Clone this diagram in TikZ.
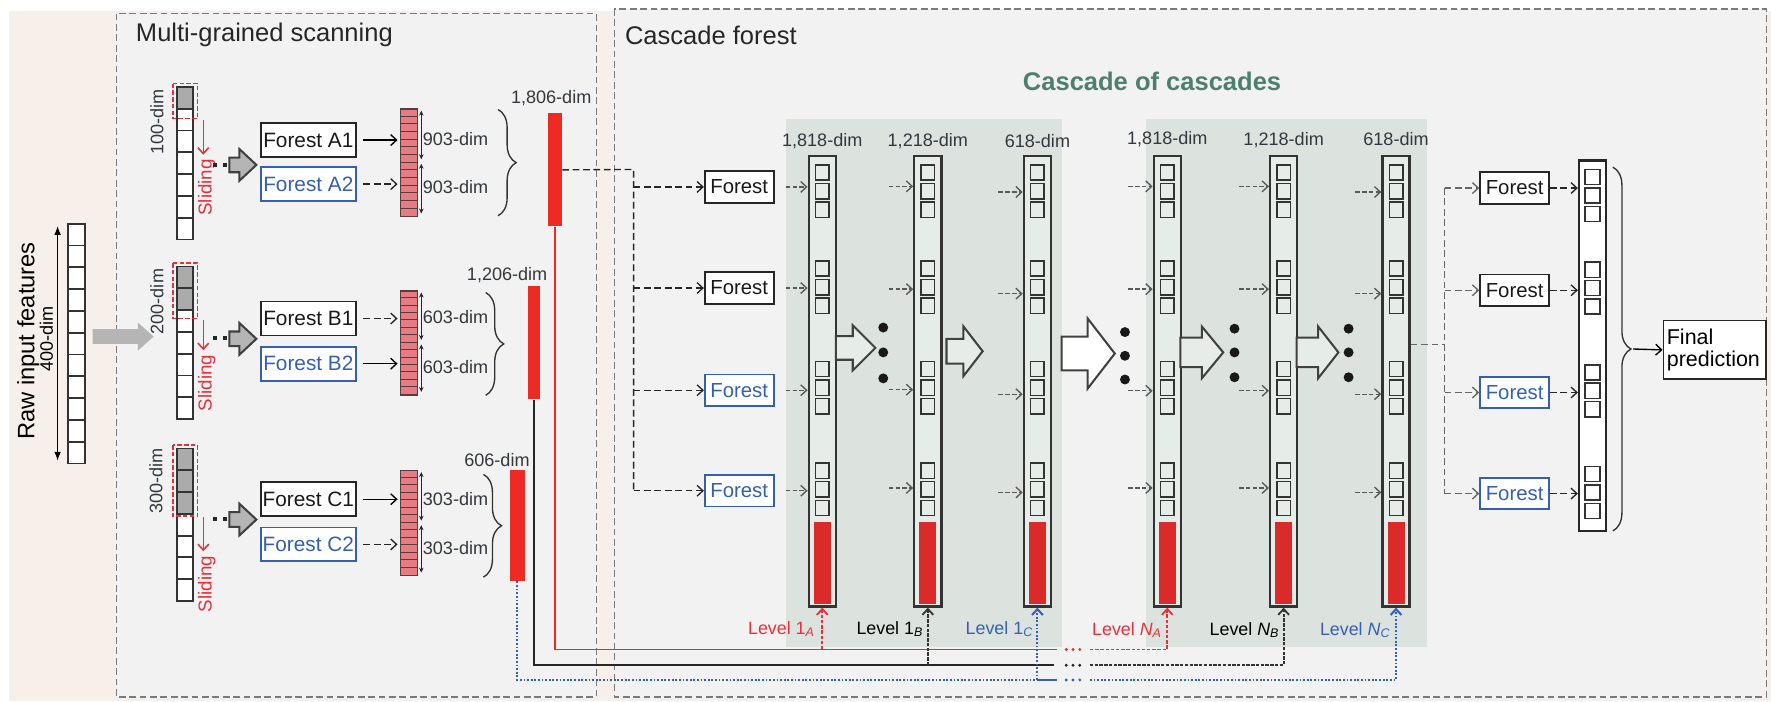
\documentclass[tikz,border=0pt]{standalone}
\usepackage{fontspec}
\setmainfont{Liberation Sans}
\usetikzlibrary{arrows.meta,decorations.pathreplacing,calc}

\definecolor{bgbeige}{HTML}{F7F0EA}
\definecolor{panelgray}{HTML}{F2F2F2}
\definecolor{panelline}{HTML}{7A7A7A}
\definecolor{levelshade}{HTML}{DCE3DE}
\definecolor{colfill}{HTML}{E6ECE8}
\definecolor{pinkcell}{HTML}{E57B83}
\definecolor{pinkline}{HTML}{5A3A3A}
\definecolor{barred}{HTML}{EE2A24}
\definecolor{segred}{HTML}{DA2A2A}
\definecolor{fblue}{HTML}{3560B0}
\definecolor{lvlred}{HTML}{E8303A}
\definecolor{cascgreen}{HTML}{4D7F6E}
\definecolor{dimtext}{HTML}{333840}
\definecolor{arrowgray}{HTML}{B5B5B5}
\definecolor{cellgray}{HTML}{ABABAB}
\definecolor{lineblk}{HTML}{262626}

\newcommand{\setfs}[1]{\fontsize{#1pt}{#1pt}\selectfont}

\tikzset{
  panel/.style={draw=panelline, fill=panelgray, line width=0.6pt, dash pattern=on 3pt off 1.6pt},
  paneltitle/.style={font=\setfs{11.3}, text=black!85, anchor=west, inner sep=0pt},
  fbox/.style={draw=black!85, fill=white, line width=0.8pt, inner sep=0pt, text=black!90},
  fboxblue/.style={fbox, draw=fblue, text=fblue},
  scanforest/.style={minimum width=42pt, minimum height=15pt, font=\setfs{9.2}},
  casforest/.style={minimum width=30.5pt, minimum height=14pt, font=\setfs{9}},
  dimlabel/.style={font=\setfs{8}, text=dimtext, inner sep=0pt},
  lvllabel/.style={font=\setfs{7.9}, inner sep=0pt},
  cascol/.style={draw=black!80, fill=colfill, line width=1pt, minimum width=12pt,
    minimum height=199.5pt, inner sep=0pt, anchor=north},
  sqcell/.style={draw=black!80, line width=0.8pt},
  smallsq/.style={draw=black!80, line width=0.65pt},
  pinkcol/.style={draw=pinkline, fill=pinkcell, line width=0.7pt, minimum width=7.5pt,
    inner sep=0pt, anchor=north west},
  redbar/.style={fill=barred, inner sep=0pt, anchor=north west},
  conn/.style={draw=black!85, line width=0.6pt, dash pattern=on 3pt off 1.6pt},
  inarrow/.style={draw=black!65, line width=0.6pt, dash pattern=on 2pt off 1pt, ->},
  dimarrow/.style={{Stealth[length=2.2pt,width=2pt]}-{Stealth[length=2.2pt,width=2pt]},
    line width=0.5pt, black!85},
  bracestyle/.style={decorate, decoration={brace, amplitude=#1}, line width=0.6pt, black!80},
  slide/.style={lvlred, line width=0.7pt, ->},
  slidebox/.style={lvlred, line width=0.7pt, dash pattern=on 2pt off 1pt},
  slidetext/.style={rotate=90, font=\setfs{8.3}, text=lvlred, inner sep=0pt},
  hollow/.style={line width=0.9pt, draw=black!75, line join=miter},
  reddash/.style={lvlred, line width=0.8pt, dash pattern=on 1.5pt off 0.8pt},
  blkdash/.style={black!80, line width=0.8pt, dash pattern=on 1.5pt off 0.6pt},
  bludot/.style={fblue, line width=0.9pt, dash pattern=on 0.8pt off 0.8pt},
  graydash/.style={draw=black!60, line width=0.6pt, dash pattern=on 3pt off 1.6pt},
}

% cell column of the scanning windows: name, top, number of shaded cells
\newcommand{\scancol}[3]{%
  \foreach \kk in {0,...,6}{%
    \ifnum\kk<#3 \def\cellfill{cellgray}\else\def\cellfill{white}\fi
    \draw[sqcell, fill=\cellfill] (157,{#2+\kk*19.3}) rectangle (171,{#2+(\kk+1)*19.3});
  }
  \node[inner sep=0pt, minimum width=7pt, minimum height=67.55pt, anchor=north west] (#1) at (157,#2) {};
}

% class-vector column: name, top, bottom
\newcommand{\pinkcells}[3]{%
  \node[pinkcol, minimum height={(#3-#2)*0.5pt}] (#1) at (354,#2) {};
  \foreach \kk in {1,...,13}
    \draw[pinkline, line width=0.45pt] (354,{#2+\kk*(#3-#2)/14}) -- (369,{#2+\kk*(#3-#2)/14});
}

% cascade level column: name, x centre, dimension label, label y
\newcommand{\levelcol}[4]{%
  \node[cascol] (#1) at (#2,137) {};
  \foreach \gtop in {146,231,320,410}{%
    \foreach \kk in {0,1,2}{%
      \draw[smallsq] ({#2-6},{\gtop+\kk*16.5}) rectangle ++(12,13.5);
    }
  }
  \fill[segred] ({#2-7.5},462) rectangle ({#2+7.5},534.5);
  \node[dimlabel] at (#2,#4) {#3};
}

% block arrow: x start, x head, x tip, y, half body, half head, fill
\newcommand{\blockarrow}[7]{%
  \draw[hollow, fill=#7] (#1,{#4-#5}) -- (#2,{#4-#5}) -- (#2,{#4-#6}) -- (#3,#4)
    -- (#2,{#4+#6}) -- (#2,{#4+#5}) -- (#1,{#4+#5}) -- cycle;
}

% three stacked dots
\newcommand{\dotstack}[4]{%
  \foreach \yy in {#2,#3,#4} \fill[black!90] (#1,\yy) circle (2.2pt);
}

\begin{document}
\begin{tikzpicture}[x=0.5pt,y=-0.5pt, >={Straight Barb[length=2.6pt,width=4.8pt]}]
\useasboundingbox (0,0) rectangle (1568,621);
\fill[white] (0,0) rectangle (1568,621);
\fill[bgbeige] (8,10) rectangle (1568,621);

% panels
\draw[panel] (103,12) rectangle (528,617);
\draw[panel] (544,8) rectangle (1564,617);
\fill[levelshade] (696,105) rectangle (940,573);
\fill[levelshade] (1015,105) rectangle (1263,573);
\node[paneltitle] (mgstitle) at (120,31) {Multi-grained scanning};
\node[paneltitle] (cftitle) at (553,31) {Cascade forest};
\node[font=\bfseries\setfs{11.3}, text=cascgreen] (coc) at (1020,72) {Cascade of cascades};

% raw input
\foreach \kk in {0,...,10}
  \draw[sqcell, fill=white] (60,{198+\kk*19.3}) rectangle (75,{198+(\kk+1)*19.3});
\node[inner sep=0pt, minimum width=7.5pt, minimum height=106.15pt, anchor=north west] (raw) at (60,198) {};
\draw[{Latex[length=4pt,width=3pt]}-{Latex[length=4pt,width=3pt]}, line width=0.6pt] (51,200) -- (51,408);
\node[rotate=90, font=\setfs{10.5}, inner sep=0pt] (rawlab) at (25,302) {Raw input features};
\node[rotate=90, font=\setfs{8}, inner sep=0pt] (rawdim) at (41,300) {400-dim};
\fill[arrowgray] (82,291.5) -- (122,291.5) -- (122,285.5) -- (136,298) -- (122,310.5) -- (122,304.5) -- (82,304.5) -- cycle;

% ---------- scanning window A ----------
\scancol{scanA}{77}{1}
\draw[slidebox] (153,74) rectangle (175,105);
\node[rotate=90, dimlabel] at (139,108) {100-dim};
\draw[slide] (180,106) -- (180,137);
\node[slidetext] at (183,166) {Sliding};
\fill[black!85] (189,144.5) rectangle ++(3.5,3.5);
\fill[black!85] (197.5,144.5) rectangle ++(3.5,3.5);
\blockarrow{203}{212}{227}{146}{6.5}{14}{arrowgray}
\node[fbox, scanforest] (fA1) at (273,124) {Forest A1};
\node[fboxblue, scanforest] (fA2) at (273,163) {Forest A2};
\pinkcells{pA}{96}{191}
\draw[->, line width=0.6pt, shorten <=3pt, shorten >=1pt] (fA1.east) -- (fA1.east -| pA.west);
\draw[->, conn, shorten <=3pt, shorten >=1pt] (fA2.east) -- (fA2.east -| pA.west);
\draw[dimarrow] (373,98) -- (373,141);
\draw[dimarrow] (373,145) -- (373,189);
\node[dimlabel, anchor=west] at (374,123) {903-dim};
\node[dimlabel, anchor=west] at (374,166) {903-dim};
\draw[bracestyle=8pt] (441,97) -- (441,191);
\node[redbar, minimum width=6pt, minimum height=50pt] (bA) at (485,100) {};
\node[dimlabel] at (488,87) {1,806-dim};

% ---------- scanning window B ----------
\scancol{scanB}{236}{2}
\draw[slidebox] (153,233) rectangle (175,282);
\node[rotate=90, dimlabel] at (139,267) {200-dim};
\draw[slide] (180,283) -- (180,310);
\node[slidetext] at (183,339) {Sliding};
\fill[black!85] (189,297.5) rectangle ++(3.5,3.5);
\fill[black!85] (197.5,297.5) rectangle ++(3.5,3.5);
\blockarrow{203}{212}{227}{300}{6.5}{14}{arrowgray}
\node[fbox, scanforest] (fB1) at (273,282) {Forest B1};
\node[fboxblue, scanforest] (fB2) at (273,322) {Forest B2};
\pinkcells{pB}{257}{349}
\draw[->, conn, shorten <=3pt, shorten >=1pt] (fB1.east) -- (fB1.east -| pB.west);
\draw[->, line width=0.6pt, shorten <=3pt, shorten >=1pt] (fB2.east) -- (fB2.east -| pB.west);
\draw[dimarrow] (373,259) -- (373,301);
\draw[dimarrow] (373,305) -- (373,347);
\node[dimlabel, anchor=west] at (374,281) {603-dim};
\node[dimlabel, anchor=west] at (374,325) {603-dim};
\draw[bracestyle=8pt] (430,259) -- (430,350);
\node[redbar, minimum width=5.5pt, minimum height=50pt] (bB) at (467,253) {};
\node[dimlabel] at (449,244) {1,206-dim};

% ---------- scanning window C ----------
\scancol{scanC}{397}{3}
\draw[slidebox] (153,394) rectangle (175,457);
\node[rotate=90, dimlabel] at (138,426) {300-dim};
\draw[slide] (180,458) -- (180,488);
\node[slidetext] at (183,517) {Sliding};
\fill[black!85] (189,457.5) rectangle ++(3.5,3.5);
\fill[black!85] (197.5,457.5) rectangle ++(3.5,3.5);
\blockarrow{203}{212}{227}{460}{6.5}{14}{arrowgray}
\node[fbox, scanforest] (fC1) at (273,442) {Forest C1};
\node[fboxblue, scanforest] (fC2) at (273,482) {Forest C2};
\pinkcells{pC}{416}{509}
\draw[->, line width=0.6pt, shorten <=3pt, shorten >=1pt] (fC1.east) -- (fC1.east -| pC.west);
\draw[->, conn, shorten <=3pt, shorten >=1pt] (fC2.east) -- (fC2.east -| pC.west);
\draw[dimarrow] (373,418) -- (373,461);
\draw[dimarrow] (373,465) -- (373,507);
\node[dimlabel, anchor=west] at (374,442) {303-dim};
\node[dimlabel, anchor=west] at (374,485) {303-dim};
\draw[bracestyle=8pt] (428,420) -- (428,511);
\node[redbar, minimum width=6.5pt, minimum height=49pt] (bC) at (451,416) {};
\node[dimlabel] at (440,407) {606-dim};

% ---------- cascade of cascades ----------
\coordinate (splitL) at (561,150);
\node[fbox, casforest] (cf1) at (654.5,165.5) {Forest};
\node[fbox, casforest] (cf2) at (654.5,255) {Forest};
\node[fboxblue, casforest] (cf3) at (654.5,345.5) {Forest};
\node[fboxblue, casforest] (cf4) at (654.5,434.5) {Forest};
\draw[conn] (bA.east) -- (splitL) -- (splitL |- cf4.west);
\foreach \ff in {cf1,cf2,cf3,cf4}
  \draw[conn, ->] (splitL |- \ff.west) -- (\ff.west);

\levelcol{c1a}{728}{1,818-dim}{125}
\levelcol{c1b}{821.5}{1,218-dim}{125}
\levelcol{c1c}{918.5}{618-dim}{125}
\levelcol{cna}{1033.5}{1,818-dim}{123}
\levelcol{cnb}{1136.5}{1,218-dim}{124}
\levelcol{cnc}{1236}{618-dim}{123}

\foreach \ff in {cf1,cf2,cf3,cf4}
  \draw[inarrow, shorten <=5pt] (\ff.east) -- (\ff.east -| c1a.west);
\foreach \xs/\col/\ya/\yb/\yc/\yd in {787/c1b/165/256/345/432, 884/c1c/170/260/349/436,
    999/cna/165/256/346/432, 1097/cnb/165/256/346/432, 1200/cnc/170/260/349/436}{%
  \foreach \yy in {\ya,\yb,\yc,\yd}{%
    \coordinate (src) at (\xs,\yy);
    \draw[inarrow] (src) -- (src -| \col.west);
  }
}

% arrows between levels
\blockarrow{740}{755}{775}{308}{10.5}{20}{colfill}
\dotstack{782}{290}{312}{335}
\blockarrow{838}{853}{870}{311}{11}{22}{colfill}
\blockarrow{940}{963}{987}{313}{15}{31}{white}
\dotstack{996}{294}{315}{336}
\blockarrow{1045}{1064}{1083}{312}{13}{23}{colfill}
\dotstack{1093}{291}{312}{334}
\blockarrow{1148}{1167}{1185}{312}{13}{23}{colfill}
\dotstack{1194}{291}{312}{334}

% level labels
\node[lvllabel, text=lvlred] at (692,557) {Level 1\textsubscript{\textit{A}}};
\node[lvllabel, text=black] at (788,557) {Level 1\textsubscript{\textit{B}}};
\node[lvllabel, text=fblue] at (885,557) {Level 1\textsubscript{\textit{C}}};
\node[lvllabel, text=lvlred] at (998,558) {Level \textit{N}\textsubscript{\textit{A}}};
\node[lvllabel, text=black] at (1102,558) {Level \textit{N}\textsubscript{\textit{B}}};
\node[lvllabel, text=fblue] at (1200,558) {Level \textit{N}\textsubscript{\textit{C}}};

% feature vectors re-fed into every level
\coordinate (redY) at (0,575);
\coordinate (blkY) at (0,589);
\coordinate (bluY) at (0,602);
\coordinate (redbreak) at (936,575);
\coordinate (blkbreak) at (933,589);
\coordinate (blubreak) at (936,602);
\coordinate (redresume) at (965,575);
\coordinate (blkresume) at (965,589);
\coordinate (bluresume) at (965,602);
\draw[barred, line width=0.8pt] (bA.south) |- (redbreak);
\draw[lineblk, line width=0.8pt] (bB.south) |- (blkbreak);
\draw[bludot] (bC.south) |- (c1c.south |- bluY);
\draw[fblue, line width=0.8pt] (c1c.south |- bluY) -- (blubreak);
\draw[reddash, ->] (c1a.south |- redY) -- (c1a.south);
\draw[blkdash, ->] (c1b.south |- blkY) -- (c1b.south);
\draw[bludot, ->] (c1c.south |- bluY) -- (c1c.south);
\foreach \xx in {944,950,956}{%
  \fill[barred] (\xx,575) circle (0.7pt);
  \fill[lineblk] (\xx,589) circle (0.7pt);
  \fill[fblue] (\xx,602) circle (0.7pt);
}
\draw[reddash, ->] (redresume) -| (cna.south);
\draw[blkdash, ->] (blkresume) -| (cnb.south);
\draw[bludot, ->] (bluresume) -| (cnc.south);

% ---------- final stage ----------
\coordinate (rsplit) at (1279,305);
\node[fbox, casforest] (rf1) at (1341,166.5) {Forest};
\node[fbox, casforest] (rf2) at (1341,257) {Forest};
\node[fboxblue, casforest] (rf3) at (1341,347.5) {Forest};
\node[fboxblue, casforest] (rf4) at (1341,437) {Forest};
\draw[graydash] (cnc.east |- rsplit) -- (rsplit);
\draw[graydash] (rsplit |- rf1.west) -- (rsplit |- rf4.west);
\foreach \ff in {rf1,rf2,rf3,rf4}
  \draw[graydash, ->] (rsplit |- \ff.west) -- (\ff.west);

\node[draw=black!85, fill=white, line width=1pt, minimum width=12pt, minimum height=164pt,
  anchor=north, inner sep=0pt] (fcol) at (1410,141) {};
\foreach \gtop in {150,232,323,413}
  \foreach \kk in {0,1,2}
    \draw[smallsq] (1403.5,{\gtop+\kk*16.3}) rectangle ++(13,13.5);
\foreach \ff in {rf1,rf2,rf3,rf4}
  \draw[conn, ->] (\ff.east) -- (\ff.east -| fcol.west);

\draw[bracestyle=8pt] (1428,148) -- (1428,470);
\node[draw=black!85, fill=white, line width=0.8pt, align=left, font=\setfs{9.5},
  text width=42.5pt, inner xsep=1.5pt, inner ysep=0pt, minimum height=26pt,
  anchor=north west] (final) at (1472,283) {Final\\prediction};
\coordinate (bracetip) at (1446,309);
\draw[line width=0.6pt, ->] (bracetip) -- (final.west);
\end{tikzpicture}
\end{document}
